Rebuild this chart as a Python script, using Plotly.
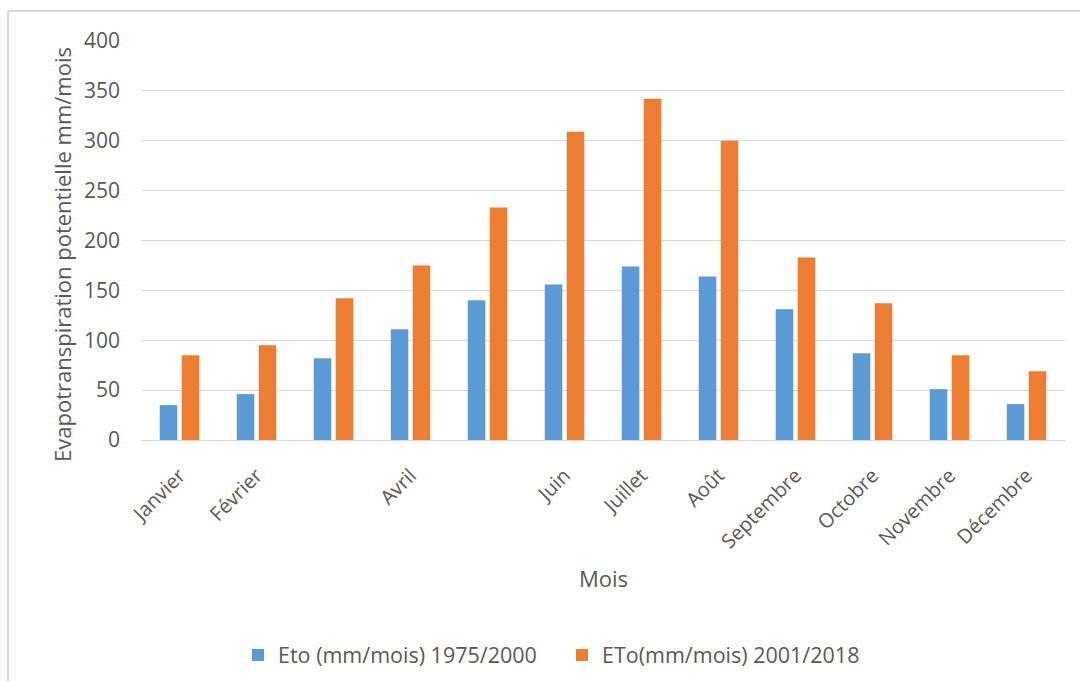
import plotly.graph_objects as go

# Monthly potential evapotranspiration (mm/month) for two reference periods
months = ["Janvier", "Février", "Mars", "Avril", "Mai", "Juin", "Juillet",
          "Août", "Septembre", "Octobre", "Novembre", "Décembre"]
month_labels = ["Janvier", "Février", "", "Avril", "", "Juin", "Juillet",
                "Août", "Septembre", "Octobre", "Novembre", "Décembre"]
eto_1975_2000 = [35, 46, 82, 111, 140, 156, 174, 164, 131, 87, 51, 36]
eto_2001_2018 = [85, 95, 142, 175, 233, 309, 342, 300, 183, 137, 85, 69]

W, H = 1080, 681
ML, MR, MT, MB = 141, 15, 41, 241
PW, PH = W - ML - MR, H - MT - MB

def px_x(x):
    return (x - ML) / PW

def px_y(y):
    return (H - MB - y) / PH

TEXT = "#595959"
GRID = "#D9D9D9"
FONT = "Open Sans"

fig = go.Figure()
fig.add_trace(go.Bar(x=months, y=eto_1975_2000, name="Eto (mm/mois) 1975/2000",
                     marker=dict(color="#5B9BD5", line=dict(width=0))))
fig.add_trace(go.Bar(x=months, y=eto_2001_2018, name="ETo(mm/mois) 2001/2018",
                     marker=dict(color="#ED7D31", line=dict(width=0))))

fig.update_layout(
    width=W, height=H,
    margin=dict(l=ML, r=MR, t=MT, b=MB, pad=0, autoexpand=False),
    paper_bgcolor="white", plot_bgcolor="white",
    font=dict(family=FONT, color=TEXT, size=21),
    barmode="group", bargap=0.43, bargroupgap=0.2,
    showlegend=True,
    legend=dict(orientation="h", x=px_x(238), xanchor="left",
                y=px_y(655), yanchor="middle",
                entrywidth=279, entrywidthmode="pixels",
                font=dict(size=21.5, color=TEXT), itemsizing="constant",
                bgcolor="rgba(0,0,0,0)"),
    xaxis=dict(tickmode="array", tickvals=months, ticktext=month_labels,
               tickangle=-45, showgrid=False, zeroline=False, showline=False,
               ticks="", ticklabelstandoff=19, automargin=False,
               tickfont=dict(size=20, color=TEXT)),
    yaxis=dict(range=[0, 400], dtick=50, showgrid=True, gridcolor=GRID,
               gridwidth=1, zeroline=True, zerolinecolor=GRID, zerolinewidth=1,
               showline=False, ticks="", ticklabelstandoff=20, automargin=False,
               tickfont=dict(size=21, color=TEXT)),
    annotations=[
        dict(text="Evapotranspiration potentielle mm/mois", textangle=-90,
             xref="paper", yref="paper", x=px_x(62), y=px_y(255),
             xanchor="center", yanchor="middle", showarrow=False,
             font=dict(size=22, color=TEXT)),
        dict(text="Mois", xref="paper", yref="paper", x=px_x(603), y=px_y(578),
             xanchor="center", yanchor="middle", showarrow=False,
             font=dict(size=22, color=TEXT)),
    ],
    shapes=[
        # chart frame (left and top edges)
        dict(type="line", xref="paper", yref="paper",
             x0=px_x(8), x1=px_x(8), y0=px_y(H + 5), y1=px_y(11),
             line=dict(color=GRID, width=2)),
        dict(type="line", xref="paper", yref="paper",
             x0=px_x(8), x1=px_x(W + 5), y0=px_y(11), y1=px_y(11),
             line=dict(color=GRID, width=2)),
    ],
)

fig.write_html("out.html")
